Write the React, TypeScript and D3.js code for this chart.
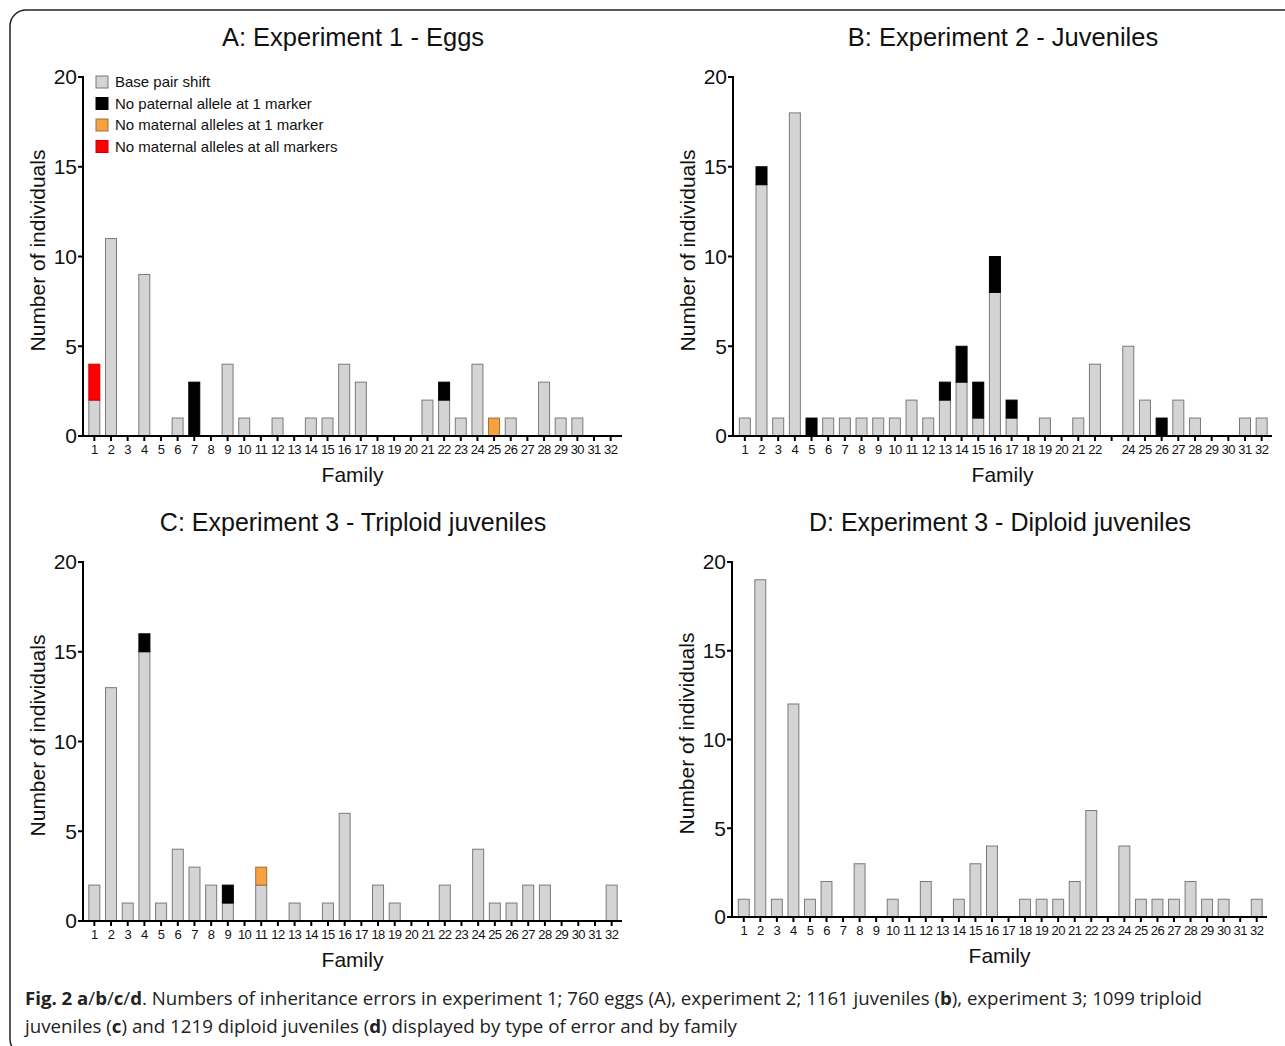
import React from "react";
import * as d3 from "d3";

const families = d3.range(1, 33).map(String);
const keys = ["base", "paternal", "mat1", "matAll"];
const legendLabels = [
  "Base pair shift",
  "No paternal allele at 1 marker",
  "No maternal alleles at 1 marker",
  "No maternal alleles at all markers",
];
const colors = ["#d4d4d4", "#000000", "#f7a23f", "#ff0000"];
const strokes = ["#7a7a7a", "#000000", "#9a7040", "#cc0000"];
const yTicks = [0, 5, 10, 15, 20];

// Panel A: Experiment 1 - Eggs
const aBase = [2, 11, 0, 9, 0, 1, 0, 0, 4, 1, 0, 1, 0, 1, 1, 4, 3, 0, 0, 0, 2, 2, 1, 4, 0, 1, 0, 3, 1, 1, 0, 0];
const aPat = [0, 0, 0, 0, 0, 0, 3, 0, 0, 0, 0, 0, 0, 0, 0, 0, 0, 0, 0, 0, 0, 1, 0, 0, 0, 0, 0, 0, 0, 0, 0, 0];
const aMat1 = [0, 0, 0, 0, 0, 0, 0, 0, 0, 0, 0, 0, 0, 0, 0, 0, 0, 0, 0, 0, 0, 0, 0, 0, 1, 0, 0, 0, 0, 0, 0, 0];
const aMatAll = [2, 0, 0, 0, 0, 0, 0, 0, 0, 0, 0, 0, 0, 0, 0, 0, 0, 0, 0, 0, 0, 0, 0, 0, 0, 0, 0, 0, 0, 0, 0, 0];

// Panel B: Experiment 2 - Juveniles
const bBase = [1, 14, 1, 18, 0, 1, 1, 1, 1, 1, 2, 1, 2, 3, 1, 8, 1, 0, 1, 0, 1, 4, 0, 5, 2, 0, 2, 1, 0, 0, 1, 1];
const bPat = [0, 1, 0, 0, 1, 0, 0, 0, 0, 0, 0, 0, 1, 2, 2, 2, 1, 0, 0, 0, 0, 0, 0, 0, 0, 1, 0, 0, 0, 0, 0, 0];
const bLabels = families.map((f) => (f === "23" ? "" : f));

// Panel C: Experiment 3 - Triploid juveniles
const cBase = [2, 13, 1, 15, 1, 4, 3, 2, 1, 0, 2, 0, 1, 0, 1, 6, 0, 2, 1, 0, 0, 2, 0, 4, 1, 1, 2, 2, 0, 0, 0, 2];
const cPat = [0, 0, 0, 1, 0, 0, 0, 0, 1, 0, 0, 0, 0, 0, 0, 0, 0, 0, 0, 0, 0, 0, 0, 0, 0, 0, 0, 0, 0, 0, 0, 0];
const cMat1 = [0, 0, 0, 0, 0, 0, 0, 0, 0, 0, 1, 0, 0, 0, 0, 0, 0, 0, 0, 0, 0, 0, 0, 0, 0, 0, 0, 0, 0, 0, 0, 0];

// Panel D: Experiment 3 - Diploid juveniles
const dBase = [1, 19, 1, 12, 1, 2, 0, 3, 0, 1, 0, 2, 0, 1, 3, 4, 0, 1, 1, 1, 2, 6, 0, 4, 1, 1, 1, 2, 1, 1, 0, 1];

const zeros = families.map(() => 0);

function makeRows(base: number[], pat: number[], mat1: number[], matAll: number[]) {
  return families.map((f, i) => ({
    family: f,
    base: base[i],
    paternal: pat[i],
    mat1: mat1[i],
    matAll: matAll[i],
  }));
}

const panels = [
  {
    title: "A: Experiment 1 - Eggs",
    rows: makeRows(aBase, aPat, aMat1, aMatAll),
    labels: families,
    axisX: 83, yTop: 77, yBot: 436, b0: 86, b1: 619, axisEnd: 622,
    titleX: 353, titleY: 46, legend: true, titleSize: 25.5,
  },
  {
    title: "B: Experiment 2 - Juveniles",
    rows: makeRows(bBase, bPat, zeros, zeros),
    labels: bLabels,
    axisX: 733, yTop: 77, yBot: 436, b0: 736.5, b1: 1270, axisEnd: 1272,
    titleX: 1003, titleY: 46, legend: false, titleSize: 25.5,
  },
  {
    title: "C: Experiment 3 - Triploid juveniles",
    rows: makeRows(cBase, cPat, cMat1, zeros),
    labels: families,
    axisX: 83, yTop: 562, yBot: 921, b0: 86, b1: 620, axisEnd: 622,
    titleX: 353, titleY: 531, legend: false, titleSize: 25,
  },
  {
    title: "D: Experiment 3 - Diploid juveniles",
    rows: makeRows(dBase, zeros, zeros, zeros),
    labels: families,
    axisX: 732, yTop: 562, yBot: 917, b0: 735.5, b1: 1265, axisEnd: 1267,
    titleX: 1000, titleY: 531, legend: false, titleSize: 25,
  },
];

const FONT = "'Liberation Sans', Arial, Helvetica, sans-serif";

function Panel({ p }: { p: any }) {
  const x = d3.scaleBand().domain(families).range([p.b0, p.b1]).paddingInner(0.34).paddingOuter(0.17);
  const y = d3.scaleLinear().domain([0, 20]).range([p.yBot, p.yTop]);
  const stacked = d3.stack().keys(keys)(p.rows as any);
  const midY = (p.yTop + p.yBot) / 2 - 6;
  const midX = (p.axisX + p.axisEnd) / 2;
  return (
    <g>
      <text x={p.titleX} y={p.titleY} textAnchor="middle" fontSize={p.titleSize} fontFamily={FONT} fill="#111">
        {p.title}
      </text>
      {stacked.map((layer: any, li: number) => (
        <g key={li}>
          {layer.map((d: any, i: number) =>
            d[1] - d[0] > 0 ? (
              <rect
                key={i}
                x={x(families[i])}
                y={y(d[1])}
                width={x.bandwidth()}
                height={y(d[0]) - y(d[1])}
                fill={colors[li]}
                stroke={strokes[li]}
                strokeWidth={1}
              />
            ) : null
          )}
        </g>
      ))}
      {/* y axis */}
      <line x1={p.axisX} x2={p.axisX} y1={p.yTop - 1} y2={p.yBot + 1} stroke="#000" strokeWidth={2} />
      {yTicks.map((t) => (
        <g key={t}>
          <line x1={p.axisX - 5} x2={p.axisX} y1={y(t)} y2={y(t)} stroke="#000" strokeWidth={2} />
          <text x={p.axisX - 6} y={y(t)} dy="0.35em" textAnchor="end" fontSize={21} fontFamily={FONT} fill="#111">
            {t}
          </text>
        </g>
      ))}
      {/* x axis */}
      <line x1={p.axisX - 1} x2={p.axisEnd} y1={p.yBot} y2={p.yBot} stroke="#000" strokeWidth={2} />
      {families.map((f, i) => {
        const cx = (x(f) as number) + x.bandwidth() / 2;
        return (
          <g key={f}>
            <line x1={cx} x2={cx} y1={p.yBot} y2={p.yBot + 5} stroke="#000" strokeWidth={2} />
            <text x={cx} y={p.yBot + 18} textAnchor="middle" fontSize={13} fontFamily={FONT} fill="#111" letterSpacing={-0.6}>
              {p.labels[i]}
            </text>
          </g>
        );
      })}
      <text x={midX} y={p.yBot + 46} textAnchor="middle" fontSize={21} fontFamily={FONT} fill="#111">
        Family
      </text>
      <text
        transform={`translate(${p.axisX - 38},${midY}) rotate(-90)`}
        textAnchor="middle"
        fontSize={21}
        fontFamily={FONT}
        fill="#111"
      >
        Number of individuals
      </text>
      {p.legend &&
        legendLabels.map((l, i) => (
          <g key={l} transform={`translate(96,${76 + i * 21.5})`}>
            <rect x={0} y={0} width={12} height={12} fill={colors[i]} stroke={strokes[i]} strokeWidth={1} />
            <text x={19} y={6} dy="0.35em" fontSize={15} fontFamily={FONT} fill="#111">
              {l}
            </text>
          </g>
        ))}
    </g>
  );
}

export default function App() {
  return (
    <svg
      width={1285}
      height={1046}
      viewBox="0 0 1285 1046"
      style={{ position: "absolute", left: 0, top: 0, display: "block", background: "#fff" }}
    >
      <rect x={10} y={10} width={1300} height={1045} rx={16} ry={16} fill="#fff" stroke="#222" strokeWidth={1.5} />
      {panels.map((p, i) => (
        <Panel key={i} p={p} />
      ))}
      <text x={25} y={1005} fontSize={18.5} fontFamily="'Open Sans', 'Noto Sans', sans-serif" fill="#222" textLength={1177} lengthAdjust="spacingAndGlyphs">
        <tspan fontWeight="bold">Fig. 2 a</tspan>/<tspan fontWeight="bold">b</tspan>/<tspan fontWeight="bold">c</tspan>/<tspan fontWeight="bold">d</tspan>. Numbers of inheritance errors in experiment 1; 760 eggs (A), experiment 2; 1161 juveniles (<tspan fontWeight="bold">b</tspan>), experiment 3; 1099 triploid
      </text>
      <text x={25} y={1033} fontSize={18.5} fontFamily="'Open Sans', 'Noto Sans', sans-serif" fill="#222" textLength={712} lengthAdjust="spacingAndGlyphs">
        juveniles (<tspan fontWeight="bold">c</tspan>) and 1219 diploid juveniles (<tspan fontWeight="bold">d</tspan>) displayed by type of error and by family
      </text>
    </svg>
  );
}
